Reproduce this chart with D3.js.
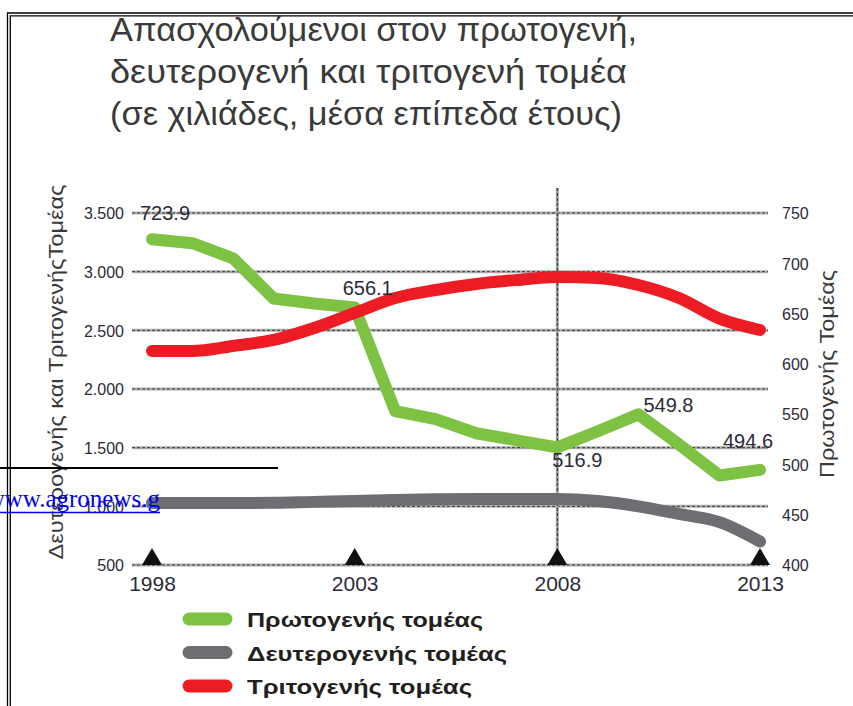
<!DOCTYPE html>
<html>
<head>
<meta charset="utf-8">
<script src="https://cdn.jsdelivr.net/npm/d3@7"></script>
<style>
body { margin: 0; background: #fff; }
svg { display: block; }
</style>
</head>
<body>
<svg id="chart" width="853" height="706"></svg>
<script>
// DATA (thousands, yearly averages)
var years = [1998, 1999, 2000, 2001, 2002, 2003, 2004, 2005, 2006, 2007, 2008, 2009, 2010, 2011, 2012, 2013];
var primary   = [723.9, 720, 705, 665, 660, 656.1, 553, 545, 531, 524, 516.9, 533, 549.8, 520, 489, 494.6]; // right axis
var secondary = [1028, 1028, 1028, 1030, 1038, 1045, 1054, 1060, 1062, 1062, 1062, 1045, 1000, 935, 865, 700];
var tertiary  = [2324, 2324, 2367, 2418, 2520, 2648, 2776, 2844, 2895, 2929, 2955, 2946, 2886, 2775, 2600, 2503];

var leftTicks  = [500, 1000, 1500, 2000, 2500, 3000, 3500];
var rightTicks = [400, 450, 500, 550, 600, 650, 700, 750];
var xTicks     = [1998, 2003, 2008, 2013];
var labelYears = [1998, 2003, 2008, 2010, 2013]; // primary values printed on the chart

var titleLines = ["Απασχολούμενοι στον πρωτογενή,", "δευτερογενή και τριτογενή τομέα", "(σε χιλιάδες, μέσα επίπεδα έτους)"];
var legendNames = ["Πρωτογενής τομέας", "Δευτερογενής τομέας", "Τριτογενής τομέας"];
var leftTitle = "Δευτερογενής και ΤριτογενήςΤομέας";
var rightTitle = "Πρωτογενής Τομέας";

// STYLE
var GREEN = "#7dc242", GREY = "#6d6e71", RED = "#ed1c24";
var FONT = "'Liberation Sans', Arial, sans-serif";
var TXT = "#2b2b38";

var svg = d3.select("#chart");

// scales
var gx0 = 132, gx1 = 768; // grid extent
var x  = d3.scaleLinear().domain([1998, 2013]).range([152, 760]);
var yL = d3.scaleLinear().domain([500, 3500]).range([565, 213]);
var yR = d3.scaleLinear().domain([400, 750]).range([565, 213]);

var grFmt = d3.formatLocale({decimal: ",", thousands: ".", grouping: [3], currency: ["", "€"]}).format(",");

// frame (double rule)
var frame = svg.append("g").attr("stroke", "#000").attr("stroke-width", 1.3).attr("fill", "none");
frame.append("path").attr("d", "M853,13 H7.5 V706");
frame.append("path").attr("d", "M853,15.8 H10.3 V706");

// title
svg.append("g").selectAll("text").data(titleLines).join("text")
	.attr("x", 110)
	.attr("y", function(d, i) { return 41 + i * 42; })
	.attr("font-family", FONT)
	.attr("font-size", 33)
	.attr("fill", "#3a3a3a")
	.attr("textLength", function(d, i) { return [527, 517, 512][i]; })
	.attr("lengthAdjust", "spacingAndGlyphs")
	.text(function(d) { return d; });

// gridlines - grey band with dark dashes on it
var grid = svg.append("g");
function gridLine(y) {
	grid.append("line").attr("x1", gx0).attr("x2", gx1).attr("y1", y).attr("y2", y)
		.attr("stroke", "#b0b0b0").attr("stroke-width", 3);
	grid.append("line").attr("x1", gx0).attr("x2", gx1).attr("y1", y).attr("y2", y)
		.attr("stroke", "#3a3a3a").attr("stroke-width", 1).attr("stroke-dasharray", "3,2");
}
leftTicks.forEach(function(t) { gridLine(yL(t)); });

// 2008 marker line
grid.append("line").attr("x1", x(2008)).attr("x2", x(2008)).attr("y1", 188).attr("y2", yL(500))
	.attr("stroke", "#a0a0a0").attr("stroke-width", 3);
grid.append("line").attr("x1", x(2008)).attr("x2", x(2008)).attr("y1", 188).attr("y2", yL(500))
	.attr("stroke", "#333").attr("stroke-width", 1).attr("stroke-dasharray", "3,2");

// axes (labels only)
var axL = svg.append("g").attr("transform", "translate(" + gx0 + ",0)")
	.call(d3.axisLeft(yL).tickValues(leftTicks).tickSize(0).tickPadding(8).tickFormat(grFmt));
var axR = svg.append("g").attr("transform", "translate(" + gx1 + ",0)")
	.call(d3.axisRight(yR).tickValues(rightTicks).tickSize(0).tickPadding(14));
var axB = svg.append("g").attr("transform", "translate(0," + yL(500) + ")")
	.call(d3.axisBottom(x).tickValues(xTicks).tickSize(0).tickPadding(10).tickFormat(d3.format("d")));

[axL, axR, axB].forEach(function(a) {
	a.select(".domain").remove();
	a.selectAll("text").attr("font-family", FONT).attr("fill", TXT);
});
axL.selectAll("text").attr("font-size", 16).attr("dy", "0.36em");
axR.selectAll("text").attr("font-size", 16).attr("dy", "0.36em");
axB.selectAll("text").attr("font-size", 21).attr("dy", "0.75em");

// tick triangles
svg.append("g").selectAll("path").data(xTicks).join("path")
	.attr("d", function(d) {
		var cx = x(d), b = yL(500);
		return "M" + (cx - 10) + "," + b + "L" + cx + "," + (b - 17) + "L" + (cx + 10) + "," + b + "Z";
	})
	.attr("fill", "#111");

// axis titles
svg.append("text")
	.attr("transform", "translate(63,372) rotate(-90)")
	.attr("text-anchor", "middle")
	.attr("font-family", FONT).attr("font-size", 20).attr("fill", "#3a3a3a")
	.attr("textLength", 375).attr("lengthAdjust", "spacingAndGlyphs")
	.text(leftTitle);
svg.append("text")
	.attr("transform", "translate(834,374) rotate(-90)")
	.attr("text-anchor", "middle")
	.attr("font-family", FONT).attr("font-size", 20).attr("fill", "#3a3a3a")
	.attr("textLength", 208).attr("lengthAdjust", "spacingAndGlyphs")
	.text(rightTitle);

// series
function mkLine(yScale, vals, curve) {
	return d3.line()
		.x(function(d, i) { return x(years[i]); })
		.y(function(d) { return yScale(d); })
		.curve(curve)(vals);
}
var lines = svg.append("g").attr("fill", "none").attr("stroke-linecap", "round").attr("stroke-linejoin", "round");
lines.append("path").attr("d", mkLine(yR, primary, d3.curveLinear)).attr("stroke", GREEN).attr("stroke-width", 12);
lines.append("path").attr("d", mkLine(yL, secondary, d3.curveMonotoneX)).attr("stroke", GREY).attr("stroke-width", 12);
lines.append("path").attr("d", mkLine(yL, tertiary, d3.curveMonotoneX)).attr("stroke", RED).attr("stroke-width", 12);

// value labels on primary sector
var labelOff = {1998: [-12, -19], 2003: [-12, -12], 2008: [-5, 20], 2010: [5, -2], 2013: [-37, -22]};
svg.append("g").selectAll("text").data(labelYears).join("text")
	.attr("x", function(d) { return x(d) + labelOff[d][0]; })
	.attr("y", function(d) { return yR(primary[years.indexOf(d)]) + labelOff[d][1]; })
	.attr("font-family", FONT).attr("font-size", 20).attr("fill", TXT)
	.text(function(d) { return d3.format(".1f")(primary[years.indexOf(d)]); });

// legend
var leg = svg.append("g").selectAll("g").data(legendNames).join("g")
	.attr("transform", function(d, i) { return "translate(0," + (619 + i * 33.5) + ")"; });
leg.append("line").attr("x1", 189).attr("x2", 226).attr("y1", 0).attr("y2", 0)
	.attr("stroke", function(d, i) { return [GREEN, GREY, RED][i]; })
	.attr("stroke-width", 13).attr("stroke-linecap", "round");
leg.append("text")
	.attr("x", 247).attr("y", 8)
	.attr("font-family", FONT).attr("font-size", 20).attr("font-weight", "bold").attr("fill", "#231f20")
	.attr("textLength", function(d, i) { return [236, 260, 225][i]; })
	.attr("lengthAdjust", "spacingAndGlyphs")
	.text(function(d) { return d; });

// page leftovers on top of the image: rule + cut link
svg.append("line").attr("x1", 0).attr("x2", 278).attr("y1", 468).attr("y2", 468)
	.attr("stroke", "#000").attr("stroke-width", 2);
svg.append("text")
	.attr("x", 160).attr("y", 507).attr("text-anchor", "end")
	.attr("font-family", "'Liberation Serif', 'Times New Roman', serif")
	.attr("font-size", 25).attr("fill", "#0000ee")
	.text("www.agronews.g");
svg.append("line").attr("x1", 0).attr("x2", 160).attr("y1", 512.5).attr("y2", 512.5)
	.attr("stroke", "#0000ee").attr("stroke-width", 1.5);
</script>
</body>
</html>
